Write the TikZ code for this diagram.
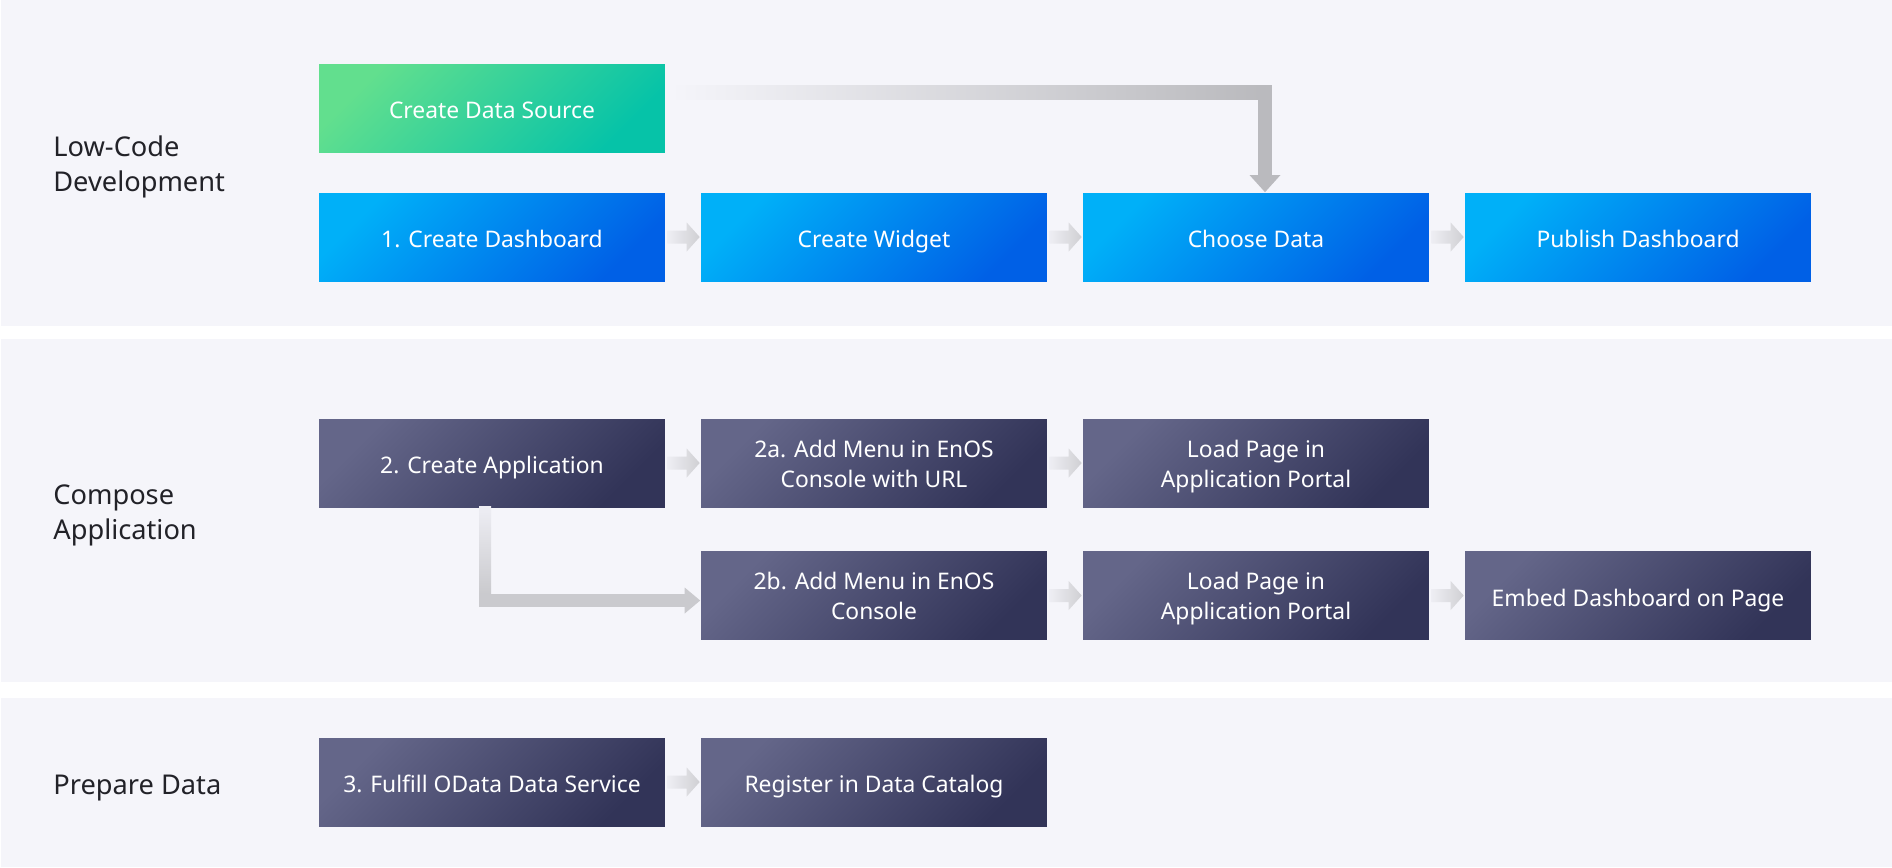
\documentclass[tikz,border=0pt]{standalone}
\usepackage{fontspec}
\setmainfont{Noto Sans}
\usetikzlibrary{calc}

\definecolor{bandbg}{RGB}{245,245,250}
\definecolor{greenA}{RGB}{98,223,142}
\definecolor{greenB}{RGB}{6,195,168}
\definecolor{blueA}{RGB}{0,176,248}
\definecolor{blueB}{RGB}{0,96,230}
\definecolor{purpleA}{RGB}{100,102,137}
\definecolor{purpleB}{RGB}{50,52,88}
\definecolor{arrowlight}{RGB}{238,238,244}
\definecolor{arrowgrey}{RGB}{196,196,200}
\definecolor{labeltext}{RGB}{34,34,40}

% struts so that every box text sits at the same height
\newcommand{\topstrut}{\rule{0pt}{16pt}}
\newcommand{\botstrut}{\rule[-3.6pt]{0pt}{3.6pt}}

% short fat arrow between two boxes of one row
\newcommand{\steparrow}[2]{%
  \shade [left color=arrowlight, right color=arrowgrey!80!white]
    ($(#1.east)+(2,-6.5)$) -- ($(#2.west)+(-14,-6.5)$) -- ($(#2.west)+(-14,-14.5)$)
    -- ($(#2.west)+(-1,0)$) -- ($(#2.west)+(-14,14.5)$) -- ($(#2.west)+(-14,6.5)$)
    -- ($(#1.east)+(2,6.5)$) -- cycle;
}

\begin{document}
\begin{tikzpicture}[x=0.02cm, y=-0.02cm]
    \tikzstyle{every node} = [font=\fontsize{13}{17}\selectfont]
    \tikzstyle{box} = [minimum width=6.92cm, minimum height=1.76cm, inner sep=0pt, align=center, text=white,
                       execute at begin node=\topstrut, execute at end node=\botstrut]
    \tikzstyle{twolines} = [execute at begin node=\rule{0pt}{31pt}]
    \tikzstyle{greenbox} = [box, top color=greenA, bottom color=greenB, shading angle=45]
    \tikzstyle{bluebox} = [box, top color=blueA, bottom color=blueB, shading angle=45]
    \tikzstyle{purplebox} = [box, top color=purpleA, bottom color=purpleB, shading angle=45]
    \tikzstyle{stage} = [anchor=west, inner sep=0pt, align=left, text=labeltext, font=\fontsize{15.5}{20}\selectfont]

    \fill [white] (0, 0) rectangle (1892, 867);
    \useasboundingbox (0, 0) rectangle (1892, 867);

    % bands
    \fill [bandbg] (1, 0) rectangle (1892, 326);
    \fill [bandbg] (1, 339) rectangle (1892, 682);
    \fill [bandbg] (1, 698) rectangle (1892, 867);

    \node [stage] (lowcode) at (53, 167) {Low-Code\\Development};
    \node [stage] (compose) at (53, 515.5) {Compose\\Application};
    \node [stage] (prepare) at (53, 788) {Prepare Data};

    % low-code development
    \node [greenbox] (src) at (492, 108) {Create Data Source};
    \foreach \name/\x/\txt in {dash/492/1. Create Dashboard, widget/874/Create Widget,
                               choose/1256/Choose Data, publish/1638/Publish Dashboard}
      \node [bluebox] (\name) at (\x, 237) {\txt};

    % compose application
    \node [purplebox] (app) at (492, 463) {2. Create Application};
    \node [purplebox, twolines] (menua) at (874, 463) {2a. Add Menu in EnOS\\Console with URL};
    \node [purplebox, twolines] (loada) at (1256, 463) {Load Page in\\Application Portal};
    \node [purplebox, twolines] (menub) at (874, 595.5) {2b. Add Menu in EnOS\\Console};
    \node [purplebox, twolines] (loadb) at (1256, 595.5) {Load Page in\\Application Portal};
    \node [purplebox] (embed) at (1638, 595.5) {Embed Dashboard on Page};

    % prepare data
    \node [purplebox] (odata) at (492, 782) {3. Fulfill OData Data Service};
    \node [purplebox] (catalog) at (874, 782) {Register in Data Catalog};

    \foreach \a/\b in {dash/widget, widget/choose, choose/publish, app/menua, menua/loada,
                       menub/loadb, loadb/embed, odata/catalog}
      \steparrow{\a}{\b};

    % data source down to choose data
    \coordinate (k0) at (choose.north |- src.east);
    \coordinate (k1) at ($(k0)+(9,-16)$);
    \shade [left color=bandbg, right color=arrowgrey!95!black] ($(src.east)+(5,-23)$) rectangle ($(k1)+(-7,7)$);
    \fill [arrowgrey!95!black] ($(k1)+(-7,-7)$) rectangle ($(k1)+(7,83)$);
    \fill [arrowgrey!95!black] ($(k1)+(-15.5,83)$) -- ($(k1)+(15.5,83)$) -- ($(choose.north)+(9,-0.5)$) -- cycle;

    % application down to menu b
    \coordinate (k2a) at (app.south |- menub.west);
    \coordinate (k2) at ($(k2a)+(-7,5)$);
    \coordinate (k3) at (k2 -| menub.west);
    \shade [top color=arrowlight, bottom color=arrowgrey!90!white] ($(app.south)+(-13,-1)$) rectangle ($(k2)+(6,-6.5)$);
    \fill [arrowgrey!90!white] ($(k2)+(-6,-6.5)$) rectangle ($(k3)+(-16,6.5)$);
    \fill [arrowgrey!90!white] ($(k3)+(-16,-13)$) -- ($(k3)+(-0.5,0)$) -- ($(k3)+(-16,13)$) -- cycle;
\end{tikzpicture}
\end{document}
